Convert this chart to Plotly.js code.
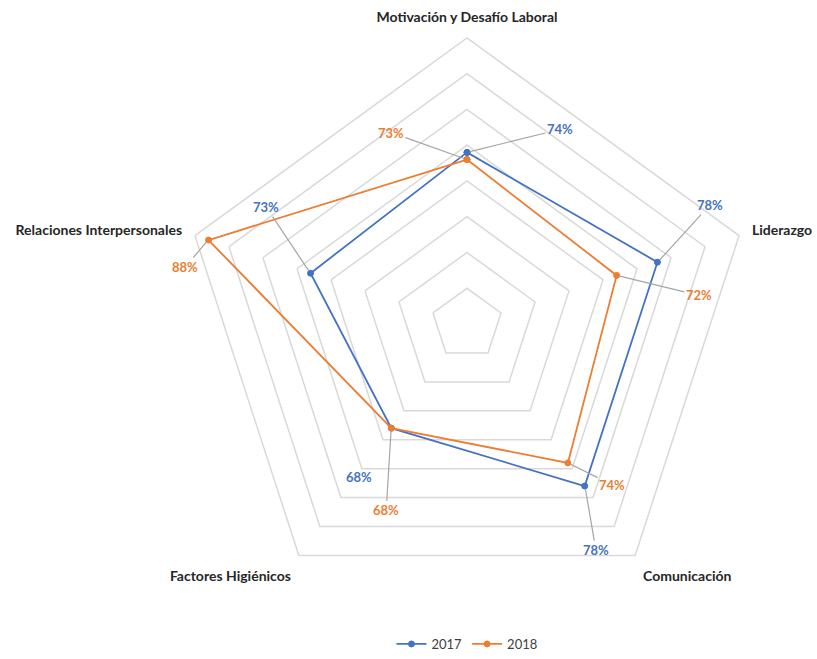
<!DOCTYPE html>
<html>
<head>
<meta charset="utf-8">
<script src="https://cdn.plot.ly/plotly-3.0.1.min.js"></script>
<style>
  html, body { margin: 0; padding: 0; background: #fff; }
  #chart { width: 817px; height: 659px; }
</style>
</head>
<body>
<div id="chart"></div>
<script>
// categories, clockwise from the top
const categories = [
    "Motivación y Desafío Laboral",
    "Liderazgo",
    "Comunicación",
    "Factores Higiénicos",
    "Relaciones Interpersonales"
];
const years = ["2017", "2018"];
const values2017 = [74, 78, 78, 68, 73];
const values2018 = [73, 72, 74, 68, 88];

const colors = { "2017": "#4472C4", "2018": "#ED7D31" };

// radial scale: 50% at the centre, rings every 5% up to 90%
const rMin = 50, rMax = 90;
const domX = [0.2209, 0.9223];
const domY = [0.0728, 0.9423];
const W = 817, H = 659;

// data label offsets (px) from each point: [ax, ay, showLeader]
const labelOffsets = {
    "2017": [[93, -23, true], [52, -57, true], [11, 64, true], [-32, 49, false], [-44, -66, true]],
    "2018": [[-76, -27, true], [82, 20, true], [44, 22, true], [-5, 82, true], [-23, 27, true]]
};

function toPaper(r, i) {
    const cx = (domX[0] + domX[1]) / 2;
    const cy = (domY[0] + domY[1]) / 2;
    const radPx = (domX[1] - domX[0]) * W / 2;
    const d = (r - rMin) / (rMax - rMin) * radPx;
    const ang = (90 - 72 * i) * Math.PI / 180;
    return { x: cx + d * Math.cos(ang) / W, y: cy + d * Math.sin(ang) / H };
}

function makeTrace(name, vals) {
    return {
        type: "scatterpolar",
        name: name,
        r: vals.concat([vals[0]]),
        theta: categories.concat([categories[0]]),
        mode: "lines+markers",
        line: { color: colors[name], width: 1.8 },
        marker: { color: colors[name], size: 6, line: { color: colors[name], width: 1 } },
        hoverinfo: "skip"
    };
}

const traces = [makeTrace("2017", values2017), makeTrace("2018", values2018)];

const annotations = [];
[["2017", values2017], ["2018", values2018]].forEach(function (pair) {
    const name = pair[0], vals = pair[1];
    vals.forEach(function (v, i) {
        const p = toPaper(v, i);
        const off = labelOffsets[name][i];
        annotations.push({
            x: p.x, y: p.y, xref: "paper", yref: "paper",
            text: "<b>" + v + "%</b>",
            showarrow: true, arrowhead: 0, arrowwidth: 1.2,
            arrowcolor: off[2] ? "#A5A5A5" : "rgba(0,0,0,0)",
            ax: off[0], ay: off[1], standoff: 3,
            font: { family: "Lato, 'Liberation Sans', sans-serif", size: 13, color: colors[name] }
        });
    });
});

const layout = {
    width: W, height: H,
    margin: { l: 0, r: 0, t: 0, b: 0 },
    paper_bgcolor: "#fff",
    showlegend: true,
    legend: {
        orientation: "h", x: 0.5716, xanchor: "center", y: 0.021, yanchor: "middle",
        font: { family: "Lato, 'Liberation Sans', sans-serif", size: 13, color: "#404040" }
    },
    polar: {
        domain: { x: domX, y: domY },
        gridshape: "linear",
        bgcolor: "#fff",
        radialaxis: {
            range: [rMin, rMax], dtick: 5, tick0: 50,
            showticklabels: false, ticks: "", showline: false,
            gridcolor: "#D9D9D9", gridwidth: 1.5
        },
        angularaxis: {
            direction: "clockwise", rotation: 90,
            showgrid: false, showline: true, linecolor: "#D9D9D9", linewidth: 1.5,
            ticks: "outside", ticklen: 10, tickcolor: "rgba(0,0,0,0)",
            tickfont: { family: "Lato, 'Liberation Sans', sans-serif", size: 14, color: "#262626", weight: "bold" }
        }
    },
    annotations: annotations
};

Plotly.newPlot("chart", traces, layout, { displayModeBar: false, staticPlot: true });
</script>
</body>
</html>
